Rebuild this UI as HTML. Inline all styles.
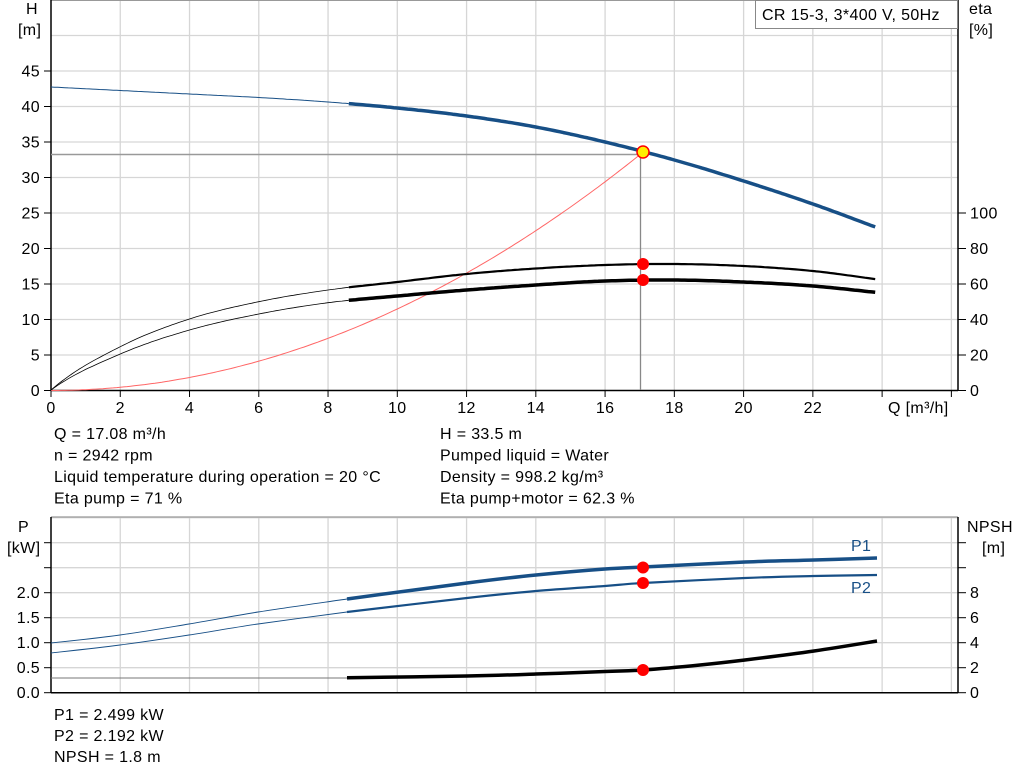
<!DOCTYPE html>
<html><head><meta charset="utf-8"><style>
body{margin:0;background:#fff;}
svg{display:block;font-family:"Liberation Sans",sans-serif;}
text{font-size:16px;letter-spacing:0.35px;fill:#000;}
</style></head><body>
<svg id="s" width="1024" height="781" viewBox="0 0 1024 781"></svg>
<script>
const s=document.getElementById('s');let h='';
const X=q=>51+34.63*q;
function cr(pts){let d='M'+pts[0][0]+','+pts[0][1];for(let i=0;i<pts.length-1;i++){const p0=pts[Math.max(0,i-1)],p1=pts[i],p2=pts[i+1],p3=pts[Math.min(pts.length-1,i+2)];
const c1=[p1[0]+(p2[0]-p0[0])/6,p1[1]+(p2[1]-p0[1])/6],c2=[p2[0]-(p3[0]-p1[0])/6,p2[1]-(p3[1]-p1[1])/6];d+=` C${c1[0].toFixed(1)},${c1[1].toFixed(1)} ${c2[0].toFixed(1)},${c2[1].toFixed(1)} ${p2[0]},${p2[1]}`;}return d;}
function path(pts,col,w){h+=`<path d="${cr(pts)}" fill="none" stroke="${col}" stroke-width="${w}" stroke-linejoin="round"/>`;}
function split(pts,bx,col,w1,w2){const a=pts.filter(p=>p[0]<=bx),b=pts.filter(p=>p[0]>=bx);path(a,col,w1);path(b,col,w2);}
function f(v,q,g){g=g||1;const n=v.length;const get=j=>j<0?v[0]-g*(v[1]-v[0]):j>=n?2*v[n-1]-v[n-2]:v[j];
const t=q/2,i=Math.min(Math.floor(t),n-2),u=t-i;const p0=get(i-1),p1=v[i],p2=v[i+1],p3=get(i+2);
return 0.5*((2*p1)+(-p0+p2)*u+(2*p0-5*p1+4*p2-p3)*u*u+(-p0+3*p1-3*p2+p3)*u*u*u);}
function curve(v,qa,qb,col,w,g){let d='';for(let q=qa;q<=qb+1e-6;q+=0.1){d+=(d?'L':'M')+X(q).toFixed(1)+','+f(v,q,g).toFixed(1);}h+=`<path d="${d}" fill="none" stroke="${col}" stroke-width="${w}" stroke-linejoin="round"/>`;}
for(let k=1;k<=13;k++){h+=`<line x1="${X(2*k)}" y1="0" x2="${X(2*k)}" y2="390" stroke="#d6d6d6" stroke-width="1.3"/>`;}
for(let k=1;k<=11;k++){const y=390.5-35.5*k;h+=`<line x1="51" y1="${y}" x2="958" y2="${y}" stroke="#d6d6d6" stroke-width="1.3"/>`;}
h+=`<line x1="51" y1="0.5" x2="958" y2="0.5" stroke="#999"/>`;
h+=`<line x1="51" y1="0" x2="51" y2="390.5" stroke="#000" stroke-width="1.5"/><line x1="958" y1="0" x2="958" y2="390.5" stroke="#000" stroke-width="1.5"/><line x1="51" y1="390.5" x2="958" y2="390.5" stroke="#000" stroke-width="1.5"/>`;
for(let k=0;k<=9;k++){const y=390.5-35.5*k;h+=`<line x1="44" y1="${y}" x2="51" y2="${y}" stroke="#000"/><text x="40" y="${y+5.5}" text-anchor="end">${k*5}</text>`;}
for(let k=0;k<=5;k++){const y=390.5-35.5*k;h+=`<line x1="958" y1="${y}" x2="966" y2="${y}" stroke="#000"/><text x="970" y="${y+5.5}">${k*20}</text>`;}
for(let k=0;k<=13;k++){h+=`<line x1="${X(2*k)}" y1="390" x2="${X(2*k)}" y2="397" stroke="#000"/>`;if(k<=11)h+=`<text x="${X(2*k)}" y="413" text-anchor="middle">${2*k}</text>`;}
h+=`<text x="888" y="413">Q [m³/h]</text>`;
h+=`<text x="26" y="14">H</text><text x="18" y="35">[m]</text><text x="969" y="14">eta</text><text x="969" y="35">[%]</text>`;
h+=`<rect x="755.5" y="0.5" width="202" height="28" fill="#fff" stroke="#888"/><text x="762" y="20">CR 15-3, 3*400 V, 50Hz</text>`;
h+=`<line x1="51" y1="154.5" x2="640" y2="154.5" stroke="#999" stroke-width="1.5"/><line x1="640.5" y1="152" x2="640.5" y2="390" stroke="#888" stroke-width="1.3"/>`;
let d='';for(let q=0;q<=17.08;q+=0.1){d+=(d?'L':'M')+X(q).toFixed(1)+','+(390.5-7.1*33.5*(q/17.08)**2).toFixed(1);}d+='L643,152';h+=`<path d="${d}" fill="none" stroke="#ff6666" stroke-width="1"/>`;
const Hv=[87,90.5,94,97.5,102,108,116,127,142,160,181,204,229.5];
curve(Hv,0,8.6,'#174f86',1);curve(Hv,8.6,23.8,'#174f86',3.5);
const E1=[390,346.7,319,301.7,290,282,274,268.5,265,264,266,271,280];
const E2=[390,354,330,314,302.7,296,290,285,281,280,282,286,293];
curve(E1,0,8.6,'#000',0.8,1.8);curve(E1,8.6,23.8,'#000',2.2);
curve(E2,0,8.6,'#000',0.8,1.8);curve(E2,8.6,23.8,'#000',3.5);
h+=`<circle cx="643" cy="152" r="6" fill="#ffee00" stroke="#ff0000" stroke-width="1.5"/><circle cx="643" cy="264" r="6" fill="#f00"/><circle cx="643" cy="280" r="6" fill="#f00"/>`;
const L=[['Q = 17.08 m³/h','H = 33.5 m'],['n = 2942 rpm','Pumped liquid = Water'],['Liquid temperature during operation = 20 °C','Density = 998.2 kg/m³'],['Eta pump = 71 %','Eta pump+motor = 62.3 %']];
L.forEach((r,i)=>{h+=`<text x="54" y="${439+21.5*i}">${r[0]}</text><text x="440" y="${439+21.5*i}">${r[1]}</text>`;});
const B=v=>692.7-50*v;
for(let k=1;k<=13;k++){h+=`<line x1="${X(2*k)}" y1="517" x2="${X(2*k)}" y2="692" stroke="#d6d6d6" stroke-width="1.3"/>`;}
for(let k=1;k<=7;k++){const y=B(0.5*k);h+=`<line x1="51" y1="${y}" x2="958" y2="${y}" stroke="#d6d6d6" stroke-width="1.3"/>`;}
h+=`<line x1="51" y1="517" x2="958" y2="517" stroke="#999" stroke-width="1.3"/>`;
h+=`<line x1="51" y1="517" x2="51" y2="693" stroke="#000" stroke-width="1.5"/><line x1="958" y1="517" x2="958" y2="693" stroke="#000" stroke-width="1.5"/><line x1="51" y1="692.7" x2="958" y2="692.7" stroke="#000" stroke-width="1.5"/>`;
for(let k=0;k<=6;k++){const y=B(0.5*k);h+=`<line x1="44" y1="${y}" x2="51" y2="${y}" stroke="#000"/>`;if(k<=4)h+=`<text x="40" y="${y+5.5}" text-anchor="end">${(0.5*k).toFixed(1)}</text>`;}
for(let k=0;k<=6;k++){const y=692.7-25*k;h+=`<line x1="958" y1="${y}" x2="966" y2="${y}" stroke="#000"/>`;if(k<=4)h+=`<text x="970" y="${y+5.5}">${2*k}</text>`;}
h+=`<text x="18" y="532">P</text><text x="7" y="553">[kW]</text><text x="967" y="532">NPSH</text><text x="982" y="553">[m]</text>`;
split([[51,643],[120,635],[189,624],[258,612],[347,599],[467,583],[536,575],[605,569],[643,567],[745,562],[814,560],[877,558]],347,'#174f86',0.9,3.5);
split([[51,653],[120,645],[189,635],[258,624],[347,612],[467,598],[536,591],[605,586],[643,583],[745,578],[814,576],[877,575]],347,'#174f86',0.9,2.2);
h+=`<line x1="51" y1="678" x2="347" y2="678" stroke="#777" stroke-width="1"/>`;
path([[347,677.7],[467,676],[536,674],[605,671.5],[643,670],[700,665],[745,660],[814,651],[877,641]],'#000',3.5);
h+=`<circle cx="643" cy="567.5" r="6" fill="#f00"/><circle cx="643" cy="583" r="6" fill="#f00"/><circle cx="643" cy="670" r="6" fill="#f00"/>`;
h+=`<text x="851" y="551" style="fill:#174f86">P1</text><text x="851" y="593" style="fill:#174f86">P2</text>`;
['P1 = 2.499 kW','P2 = 2.192 kW','NPSH = 1.8 m'].forEach((t,i)=>{h+=`<text x="54" y="${720+21*i}">${t}</text>`;});
s.innerHTML=h;
</script>
</body></html>
